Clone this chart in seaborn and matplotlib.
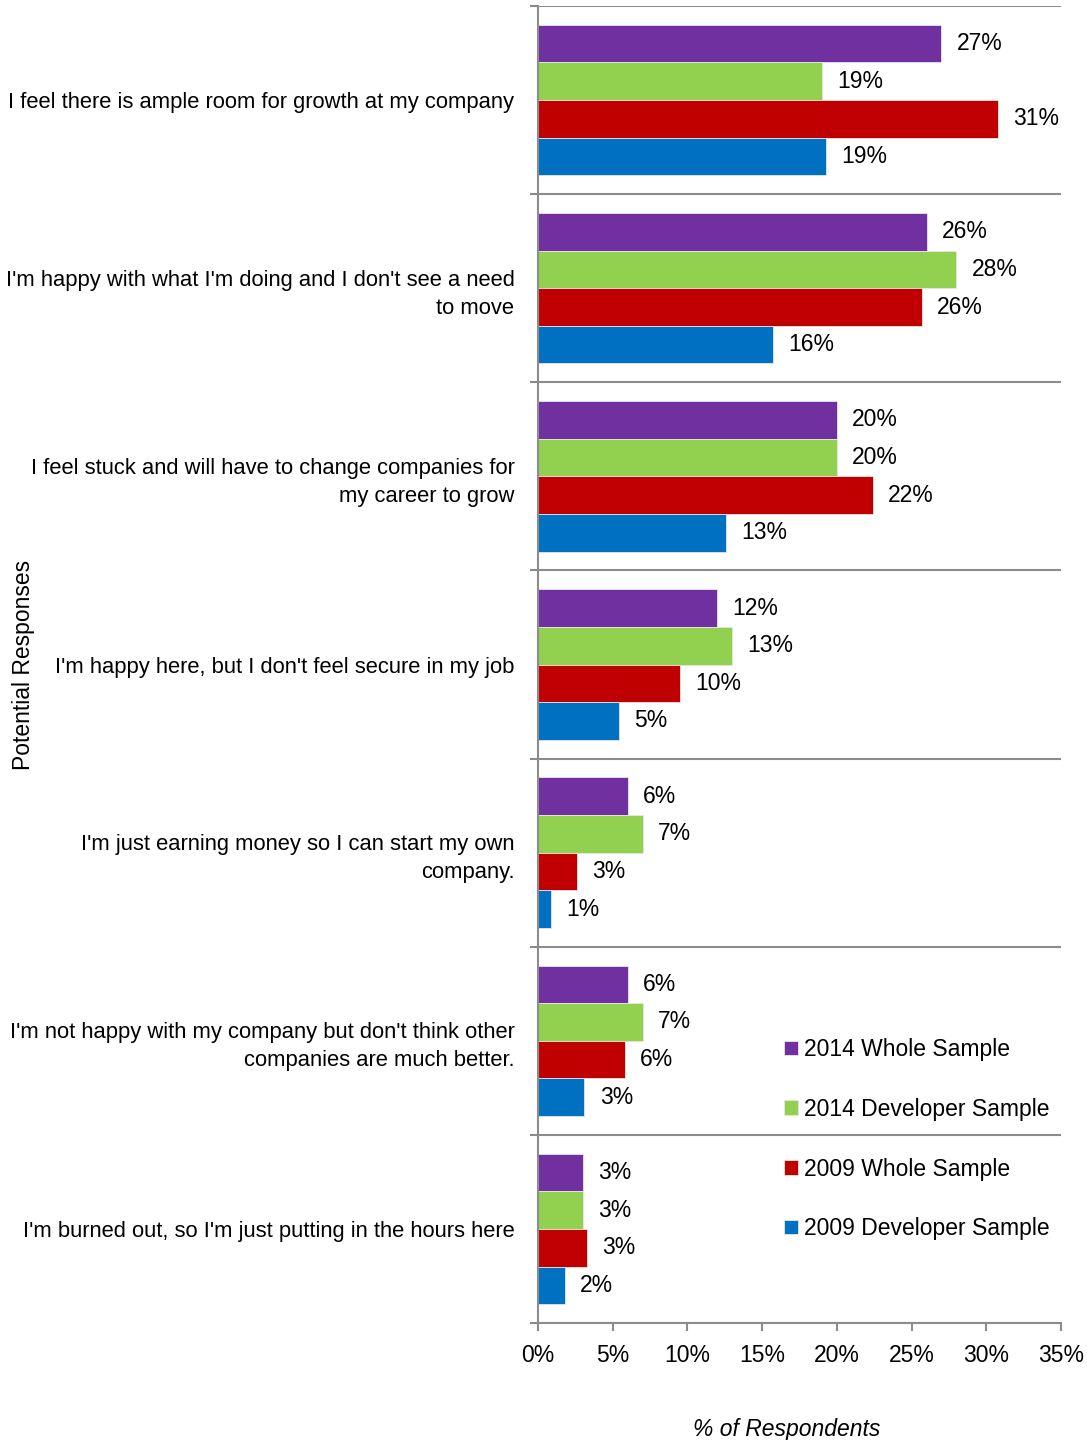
import matplotlib
matplotlib.use("Agg")
import matplotlib.pyplot as plt
import seaborn as sns
import pandas as pd
import numpy as np
from matplotlib.ticker import FixedLocator, PercentFormatter

categories = [
    "I feel there is ample room for growth at my company",
    "I'm happy with what I'm doing and I don't see a need\nto move",
    "I feel stuck and will have to change companies for\nmy career to grow",
    "I'm happy here, but I don't feel secure in my job",
    "I'm just earning money so I can start my own\ncompany.",
    "I'm not happy with my company but don't think other\ncompanies are much better.",
    "I'm burned out, so I'm just putting in the hours here",
]
series_names = ["2014 Whole Sample", "2014 Developer Sample",
                "2009 Whole Sample", "2009 Developer Sample"]
whole_2014 = [27.0, 26.0, 20.0, 12.0, 6.0, 6.0, 3.0]
dev_2014 = [19.0, 28.0, 20.0, 13.0, 7.0, 7.0, 3.0]
whole_2009 = [30.8, 25.7, 22.4, 9.5, 2.6, 5.8, 3.3]
dev_2009 = [19.3, 15.7, 12.6, 5.4, 0.9, 3.1, 1.8]
x_ticks = [0, 5, 10, 15, 20, 25, 30, 35]
colors = ["#7030A0", "#92D050", "#C00000", "#0070C0"]

rows = []
for name, vals in zip(series_names, [whole_2014, dev_2014, whole_2009, dev_2009]):
    for c, v in zip(categories, vals):
        rows.append({"Response": c, "Series": name, "Value": v})
df = pd.DataFrame(rows)

sns.set_style("white")
plt.rcParams["font.family"] = ["Liberation Sans Narrow", "Liberation Sans", "DejaVu Sans"]
plt.rcParams["text.color"] = "black"
plt.rcParams["axes.labelcolor"] = "black"
plt.rcParams["xtick.labelcolor"] = "black"
plt.rcParams["ytick.labelcolor"] = "black"
fs = 16.5
fs_cat = 15.8

fig = plt.figure(figsize=(10.87, 14.4), dpi=100)
ax = fig.add_axes([538/1087, 1-1323/1440, (1061-538)/1087, (1323-6)/1440])

sns.barplot(data=df, y="Response", x="Value", hue="Series", order=categories,
            hue_order=series_names, palette=colors, saturation=1, orient="h", width=0.8,
            edgecolor="#e6e6e6", linewidth=0.6, ax=ax, errorbar=None)

# value labels
for cont in ax.containers:
    labels = [f"{int(b.get_width() + 0.5)}%" for b in cont]
    ax.bar_label(cont, labels=labels, padding=11, fontsize=fs, color="black")

ax.set_xlim(0, 35)
ax.set_ylim(len(categories) - 0.5, -0.5)
ax.xaxis.set_major_locator(FixedLocator(x_ticks))
ax.xaxis.set_major_formatter(PercentFormatter(decimals=0))

# category boundary ticks/grid
bounds = np.arange(-0.5, len(categories) + 0.5, 1.0)
ax.yaxis.set_minor_locator(FixedLocator(bounds))
ax.grid(False)
ax.yaxis.grid(True, which="minor", color="#8c8c8c", linewidth=1.5)
ax.tick_params(axis="y", which="major", length=0, pad=17, labelsize=fs_cat)
ax.tick_params(axis="y", which="minor", length=6, width=1.5, color="#8c8c8c", left=True)
ax.tick_params(axis="x", which="major", length=6, width=1.5, color="#8c8c8c",
               bottom=True, labelsize=fs, pad=9)
for lbl in ax.get_yticklabels():
    lbl.set_horizontalalignment("right")
    lbl.set_multialignment("right")
    lbl.set_linespacing(1.45)
    lbl.set_color("black")
for lbl in ax.get_xticklabels():
    lbl.set_color("black")

for s in ["top", "right"]:
    ax.spines[s].set_visible(False)
for s in ["left", "bottom"]:
    ax.spines[s].set_color("#8c8c8c")
    ax.spines[s].set_linewidth(1.5)

ax.set_xlabel("% of Respondents", fontsize=fs, style="italic", color="black")
ax.xaxis.set_label_coords(0.476, -0.072)
ax.set_ylabel("Potential Responses", fontsize=fs, color="black")
ax.yaxis.set_label_coords(-0.962, 0.5)

handles, labs = ax.get_legend_handles_labels()
ax.legend(handles, labs, loc="upper left", bbox_to_anchor=(0.711, 0.287),
          bbox_transform=fig.transFigure, frameon=False, fontsize=fs,
          handlelength=0.6, handleheight=0.6, handletextpad=0.25,
          labelspacing=1.6, borderpad=0)

fig.savefig("out.png", dpi=100)
